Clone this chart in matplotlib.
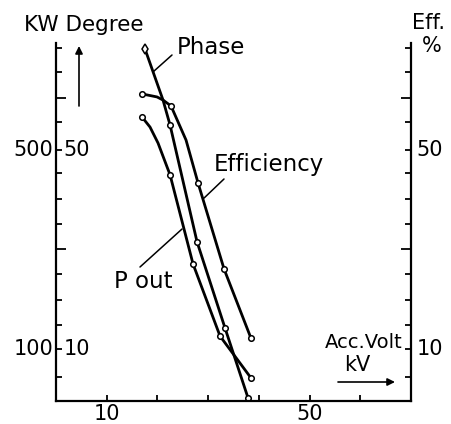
import numpy as np
import matplotlib
matplotlib.use("Agg")
import matplotlib.pyplot as plt
import matplotlib.transforms as mtransforms

plt.rcParams["font.family"] = ["DejaVu Sans"]

# Acceleration voltage, kV (x) and values on the Degree / % scale (y, log).
phase_kv = [17.55, 21.10, 22.49, 27.81, 33.33, 37.87]
phase_deg = [113.2, 74.9, 61.2, 23.8, 11.85, 6.73]
phase_marks = [2, 3, 4, 5]

eff_kv = [16.96, 19.92, 21.10, 22.68, 25.64, 28.01, 33.14, 38.46]
eff_pct = [78.7, 76.8, 74.9, 71.4, 54.2, 38.3, 19.1, 10.9]
eff_marks = [0, 3, 5, 6, 7]

pout_kv = [16.96, 18.54, 20.12, 22.49, 27.02, 32.35, 38.46]
pout_val = [65.3, 60.2, 52.9, 40.9, 19.9, 11.1, 7.91]
pout_marks = [0, 3, 4, 5, 6]

# Axis ticks.
x_ticks = [10, 20, 30, 40, 50, 60]
x_labels = ["10", "", "", "", "50", ""]
y_ticks = [7.97, 10, 12.1, 14.9, 18.3, 22.5, 27.5, 33.6, 41.5, 50, 62.7,
           76.1, 94.0, 114.1]
y_long_ticks = [22.5, 76.1]
y_labels_left = ["100", "500"]
y_labels_inner = ["10", "50"]
y_label_values = [10, 50]

fig = plt.figure(figsize=(4.51, 4.24), dpi=100)
ax = fig.add_axes([56 / 451, 1 - 401 / 424, 355 / 451, 358 / 424])

line_kw = dict(color="black", linewidth=2.0, solid_capstyle="round",
               solid_joinstyle="round")
mark_kw = dict(marker="o", markersize=4.0, markerfacecolor="white",
               markeredgecolor="black", markeredgewidth=1.1)

# Curves.
ax.plot(phase_kv, phase_deg, markevery=phase_marks, **line_kw, **mark_kw)
ax.plot(phase_kv[:1], phase_deg[:1], linestyle="none", marker="d",
        markersize=5, markerfacecolor="white", markeredgecolor="black",
        markeredgewidth=1.1)
ax.plot(eff_kv, eff_pct, markevery=eff_marks, **line_kw, **mark_kw)
ax.plot(pout_kv, pout_val, markevery=pout_marks, **line_kw, **mark_kw)

ax.set_yscale("log")
ax.set_xlim(0, 70)
ax.set_ylim(6.57, 118.8)

# Spines.
ax.spines["top"].set_visible(False)
for side in ["left", "right", "bottom"]:
    ax.spines[side].set_linewidth(1.6)

# Ticks (all inward, labels drawn by hand).
ax.set_xticks(x_ticks)
ax.set_xticklabels(x_labels, fontsize=15)
ax.tick_params(axis="x", direction="in", length=4, width=1.3, pad=2)
ax.yaxis.set_major_locator(matplotlib.ticker.FixedLocator(y_long_ticks))
ax.yaxis.set_minor_locator(matplotlib.ticker.FixedLocator(
    [v for v in y_ticks if v not in y_long_ticks]))
ax.yaxis.set_major_formatter(matplotlib.ticker.NullFormatter())
ax.yaxis.set_minor_formatter(matplotlib.ticker.NullFormatter())
ax.tick_params(axis="y", which="major", direction="in", length=7,
               width=1.3, left=True, right=True)
ax.tick_params(axis="y", which="minor", direction="in", length=4.5,
               width=1.3, left=True, right=True)

trans = mtransforms.blended_transform_factory(ax.transAxes, ax.transData)
for left, inner, value in zip(y_labels_left, y_labels_inner,
                              y_label_values):
    ax.text(-0.008, value, left, transform=trans, ha="right", va="center",
            fontsize=15)
    ax.text(0.022, value, inner, transform=trans, ha="left", va="center",
            fontsize=15)
    ax.text(1.015, value, inner, transform=trans, ha="left", va="center",
            fontsize=15)

# Axis titles.
fig.text(84 / 451, 1 - 25 / 424, "KW Degree", ha="center", va="center",
         fontsize=15.5)
fig.text(429 / 451, 1 - 23 / 424, "Eff.", ha="center", va="center",
         fontsize=15)
fig.text(432 / 451, 1 - 46 / 424, "%", ha="center", va="center",
         fontsize=15)
fig.text(364 / 451, 1 - 342 / 424, "Acc.Volt", ha="center", va="center",
         fontsize=14)
fig.text(357 / 451, 1 - 365 / 424, "kV", ha="center", va="center",
         fontsize=15)

# Arrows next to the axis titles.
ax.annotate("", xy=(79, 424 - 46), xytext=(79, 424 - 106),
            xycoords="figure pixels", textcoords="figure pixels",
            arrowprops=dict(arrowstyle="-|>", color="black", lw=1.2,
                            mutation_scale=11, shrinkA=0, shrinkB=0))
ax.annotate("", xy=(395, 424 - 382), xytext=(338, 424 - 382),
            xycoords="figure pixels", textcoords="figure pixels",
            arrowprops=dict(arrowstyle="-|>", color="black", lw=1.2,
                            mutation_scale=11, shrinkA=0, shrinkB=0))

# Curve names with leader lines.
leader = dict(arrowstyle="-", color="black", lw=1.1, shrinkA=0, shrinkB=0)
fig.text(177 / 451, 1 - 48 / 424, "Phase", ha="left", va="center",
         fontsize=16.5)
ax.annotate("", xy=(19.13, 94.0), xytext=(172, 424 - 55),
            textcoords="figure pixels", arrowprops=leader)
fig.text(214 / 451, 1 - 164 / 424, "Efficiency", ha="left", va="center",
         fontsize=16.5)
ax.annotate("", xy=(29.19, 33.9), xytext=(224, 424 - 179),
            textcoords="figure pixels", arrowprops=leader)
fig.text(114 / 451, 1 - 282 / 424, "P out", ha="left", va="center",
         fontsize=16.5)
ax.annotate("", xy=(24.85, 26.4), xytext=(140, 424 - 267),
            textcoords="figure pixels", arrowprops=leader)

fig.savefig("out.png", dpi=100)
